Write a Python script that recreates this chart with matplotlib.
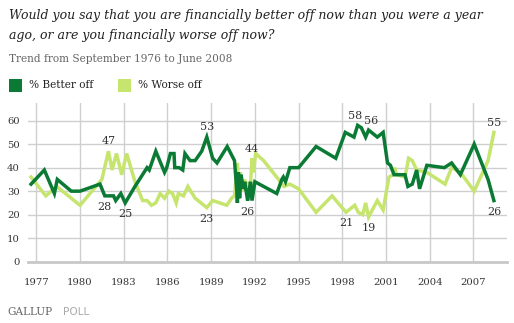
import matplotlib
matplotlib.use("Agg")
import matplotlib.pyplot as plt
from matplotlib.patches import Rectangle

# ---- data ----
better_years = [1976.64, 1977.55, 1978.24, 1978.44, 1979.4, 1980.0, 1981.37, 1981.7, 1982.3, 1982.45,
                1982.8, 1983.1, 1983.77, 1984.6, 1984.75, 1985.2, 1985.8, 1985.95, 1986.2, 1986.45,
                1986.5, 1986.8, 1987.05, 1987.2, 1987.55, 1987.9, 1988.35, 1988.7, 1989.1, 1989.4,
                1990.1, 1990.6, 1990.75, 1990.8, 1990.87, 1990.95, 1991.05, 1991.2, 1991.3, 1991.5,
                1991.6, 1991.7, 1991.8, 1992.0, 1993.5, 1993.85, 1993.95, 1994.1, 1994.4, 1995.0,
                1996.2, 1997.55, 1998.2, 1998.8, 1999.05, 1999.3, 1999.6, 1999.8, 2000.4, 2000.8,
                2001.1, 2001.3, 2001.55, 2001.7, 2002.3, 2002.5, 2002.8, 2003.1, 2003.3, 2003.8,
                2005.0, 2005.5, 2006.1, 2007.05, 2008.0, 2008.4]
better_vals = [33, 39, 29, 35, 30, 30, 33, 28, 28, 26,
               29, 25, 32, 40, 39, 47, 38, 40, 46, 46,
               40, 40, 39, 46, 43, 43, 47, 53, 44, 42,
               49, 43, 31, 25, 38, 27, 37, 31, 34, 26,
               30, 34, 26, 34, 29, 35, 36, 34, 40, 40,
               49, 44, 55, 53, 58, 57, 53, 56, 53, 55,
               42, 41, 37, 37, 37, 32, 33, 39, 31, 41,
               40, 42, 37, 50, 35, 26]

worse_years = [1976.64, 1977.65, 1978.4, 1980.0, 1981.5, 1981.95, 1982.2, 1982.5, 1982.86, 1983.2,
               1983.77, 1984.3, 1984.6, 1984.9, 1985.2, 1985.5, 1985.8, 1986.1, 1986.35, 1986.6,
               1986.75, 1987.1, 1987.4, 1987.9, 1988.7, 1989.1, 1990.07, 1990.4, 1990.6, 1990.8,
               1990.9, 1991.0, 1991.15, 1991.3, 1991.4, 1991.5, 1991.65, 1991.8, 1991.9, 1992.05,
               1992.6, 1994.0, 1994.4, 1995.0, 1996.2, 1997.3, 1998.25, 1998.85, 1999.1, 1999.4,
               1999.6, 1999.8, 2000.4, 2000.8, 2001.2, 2001.5, 2001.6, 2001.7, 2002.3, 2002.55,
               2002.8, 2003.1, 2003.8, 2005.05, 2005.5, 2006.1, 2007.05, 2008.0, 2008.4]
worse_vals = [36, 28, 32, 24, 35, 47, 39, 46, 37, 46,
              34, 26, 26, 24, 25, 29, 27, 30, 29, 25,
              29, 28, 32, 27, 23, 26, 24, 27, 28, 42,
              28, 38, 30, 35, 30, 34, 27, 44, 38, 46,
              43, 32, 33, 31, 21, 28, 21, 24, 21, 20,
              25, 19, 26, 22, 36, 37, 40, 37, 36, 44,
              43, 39, 38, 33, 40, 38, 30, 43, 55]

x_ticks = [1977, 1980, 1983, 1986, 1989, 1992, 1995, 1998, 2001, 2004, 2007]
y_ticks = [0, 10, 20, 30, 40, 50, 60]

# labels: (year, value, text, dx, dy) offsets in points
labels = [
    (1981.95, 47, "47", 0, 7),
    (1981.7, 28, "28", 0, -8),
    (1983.1, 25, "25", 0, -8),
    (1988.7, 53, "53", 0, 7),
    (1988.7, 23, "23", 0, -8),
    (1991.8, 44, "44", 0, 7),
    (1991.5, 26, "26", 0, -8),
    (1999.05, 58, "58", -1.5, 7),
    (1999.8, 56, "56", 2, 6.5),
    (1998.25, 21, "21", 0, -8),
    (1999.8, 19, "19", 0, -8),
    (2008.4, 55, "55", 0, 7),
    (2008.4, 26, "26", 0, -8),
]

DARK = "#0a7a34"
LIGHT = "#c6e56f"
SERIF = ["DejaVu Serif"]

W, H = 514, 323
fig = plt.figure(figsize=(W / 100, H / 100), dpi=100)
fig.patch.set_facecolor("white")

def fx(px):
    return px / W

def fy(py):
    return 1 - py / H

# titles
fig.text(fx(9), fy(15), "Would you say that you are financially better off now than you were a year",
         family=SERIF, style="italic", fontsize=9.0, color="#222222", va="center", ha="left")
fig.text(fx(9), fy(36), "ago, or are you financially worse off now?",
         family=SERIF, style="italic", fontsize=9.0, color="#222222", va="center", ha="left")
fig.text(fx(9), fy(59), "Trend from September 1976 to June 2008",
         family=SERIF, fontsize=7.6, color="#666666", va="center", ha="left")

# legend
fig.patches.append(Rectangle((fx(9), fy(92)), 13 / W, 13 / H, transform=fig.transFigure,
                             facecolor=DARK, edgecolor="none"))
fig.text(fx(29), fy(85), "% Better off", family=SERIF, fontsize=7.6, color="#222222",
         va="center", ha="left")
fig.patches.append(Rectangle((fx(118), fy(92)), 13 / W, 13 / H, transform=fig.transFigure,
                             facecolor=LIGHT, edgecolor="none"))
fig.text(fx(138), fy(85), "% Worse off", family=SERIF, fontsize=7.6, color="#222222",
         va="center", ha="left")

# axes
ax_left, ax_right, ax_top, ax_bot = 28, 507, 103, 261.7
ax = fig.add_axes([fx(ax_left), fy(ax_bot), (ax_right - ax_left) / W, (ax_bot - ax_top) / H])
ax.set_xlim(1976.43, 2009.3)
ax.set_ylim(0, 67.5)

for x in x_ticks:
    ax.axvline(x, color="#cfcfcf", lw=1.0, zorder=0)
for y in y_ticks[1:]:
    ax.axhline(y, color="#cfcfcf", lw=1.0, zorder=0)

ax.plot(worse_years, worse_vals, color=LIGHT, lw=2.5, solid_joinstyle="miter", zorder=3)
ax.plot(better_years, better_vals, color=DARK, lw=2.5, solid_joinstyle="miter", zorder=4)

for yr, v, t, dx, dy in labels:
    ax.annotate(t, (yr, v), xytext=(dx, dy), textcoords="offset points",
                ha="center", va="center", family=SERIF, fontsize=8, color="#333333", zorder=5)

for side in ["top", "right", "left"]:
    ax.spines[side].set_visible(False)
ax.spines["bottom"].set_color("#c8c8c8")
ax.spines["bottom"].set_linewidth(2)

ax.set_xticks(x_ticks)
ax.set_xticklabels([str(x) for x in x_ticks], family=SERIF, fontsize=7.2, color="#333333")
ax.set_yticks(y_ticks)
ax.set_yticklabels([str(y) for y in y_ticks], family=SERIF, fontsize=7.2, color="#333333")
ax.tick_params(axis="both", length=0)
ax.tick_params(axis="x", pad=12)
ax.tick_params(axis="y", pad=6)

# footer
fig.text(fx(7), fy(312), "GALLUP", family=SERIF, fontsize=7.6, color="#666666",
         va="center", ha="left")
fig.text(fx(63), fy(312), "POLL", family=["DejaVu Sans"], fontsize=7.6, color="#aaaaaa",
         va="center", ha="left")

fig.savefig("out.png", dpi=100)
